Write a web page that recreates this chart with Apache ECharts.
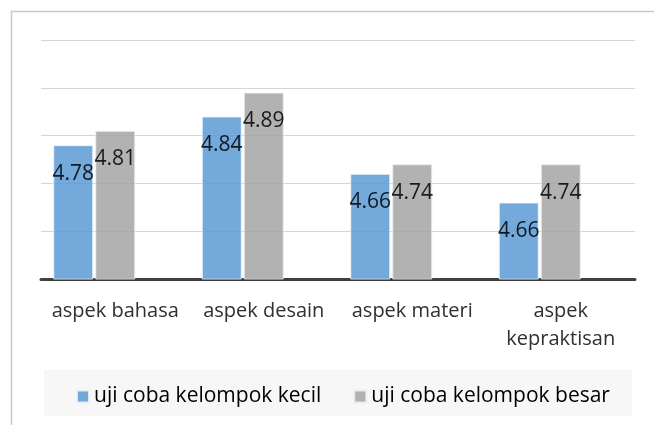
<!DOCTYPE html>
<html>
<head>
<meta charset="utf-8">
<script src="https://cdn.jsdelivr.net/npm/echarts@6/dist/echarts.min.js"></script>
<style>
  html, body { margin: 0; padding: 0; background: #fff; }
  #chart { width: 654px; height: 425px; }
</style>
</head>
<body>
<div id="chart"></div>
<script>
// kategori aspek
var categories = ['aspek bahasa', 'aspek desain', 'aspek materi', 'aspek\nkepraktisan'];
var seriesNames = ['uji coba kelompok kecil', 'uji coba kelompok besar'];
// tinggi batang
var kecilValues = [4.78, 4.84, 4.72, 4.66];
var besarValues = [4.81, 4.89, 4.74, 4.74];
// teks label di atas batang
var kecilLabels = ['4.78', '4.84', '4.66', '4.66'];
var besarLabels = ['4.81', '4.89', '4.74', '4.74'];
var emptyValues = [null, null, null, null];

var dom = document.getElementById('chart');
var myChart = echarts.init(dom);

function labelOf(list) {
    return {
        show: true,
        position: 'insideTop',
        distance: 18,
        color: '#000',
        fontFamily: 'Open Sans',
        fontSize: 21,
        formatter: function (p) { return list[p.dataIndex]; }
    };
}

var option = {
    backgroundColor: '#fff',
    animation: false,
    graphic: [
        {
            type: 'rect', z: -10, silent: true,
            shape: { x: 11.5, y: 11.5, width: 800, height: 600 },
            style: { fill: 'none', stroke: '#c9c9c9', lineWidth: 1.5 }
        },
        {
            type: 'rect', z: -10, silent: true,
            shape: { x: 44, y: 370, width: 588, height: 46 },
            style: { fill: '#f7f7f7' }
        }
    ],
    grid: { left: 41, right: 19, top: 40, bottom: 146 },
    legend: {
        data: seriesNames,
        left: 71,
        top: 381,
        icon: 'rect',
        itemWidth: 12,
        itemHeight: 12,
        itemGap: 32,
        textStyle: { fontFamily: 'Open Sans', fontSize: 21, color: '#000' }
    },
    xAxis: {
        type: 'category',
        data: categories,
        axisTick: { show: false },
        axisLine: { lineStyle: { color: '#404040', width: 3 } },
        axisLabel: {
            margin: 18,
            color: '#303030',
            fontFamily: 'Open Sans',
            fontSize: 20,
            lineHeight: 28,
            interval: 0
        }
    },
    yAxis: {
        type: 'value',
        min: 4.5,
        max: 5.0,
        interval: 0.1,
        axisLabel: { show: false },
        axisLine: { show: false },
        axisTick: { show: false },
        splitLine: { lineStyle: { color: '#d6d6d6', width: 1 } }
    },
    series: [
        {
            name: seriesNames[0],
            type: 'bar',
            barWidth: 40,
            barGap: '5%',
            data: kecilValues,
            itemStyle: { color: '#5B9BD5', opacity: 0.85, borderColor: '#eef4fa', borderWidth: 1 },
            label: labelOf(kecilLabels)
        },
        {
            name: seriesNames[1],
            type: 'bar',
            barWidth: 40,
            barGap: '5%',
            data: besarValues,
            itemStyle: { color: '#A5A5A5', opacity: 0.85, borderColor: '#eeeeee', borderWidth: 1 },
            label: labelOf(besarLabels)
        },
        {
            name: '',
            type: 'bar',
            barWidth: 40,
            barGap: '5%',
            data: emptyValues
        }
    ]
};

if (option && typeof option === 'object') {
    myChart.setOption(option, true);
}
</script>
</body>
</html>
